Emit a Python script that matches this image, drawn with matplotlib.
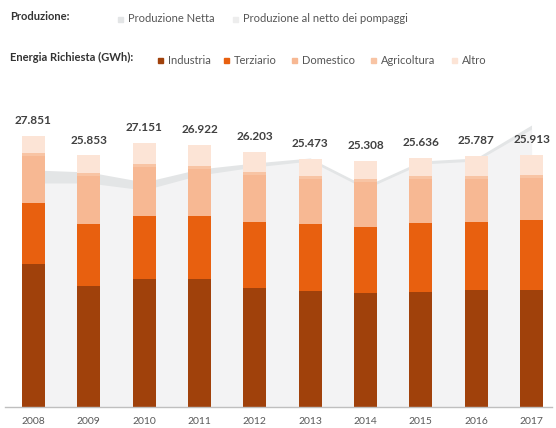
import numpy as np
import matplotlib
matplotlib.use("Agg")
import matplotlib.pyplot as plt
from matplotlib.patches import Rectangle

plt.rcParams['font.family'] = ['Lato', 'DejaVu Sans']

# dati (GWh)
anni = ['2008', '2009', '2010', '2011', '2012', '2013', '2014', '2015', '2016', '2017']
industria = [14700, 12440, 13160, 13160, 12230, 11920, 11720, 11820, 12030, 12030]
terziario = [6270, 6370, 6470, 6470, 6780, 6890, 6780, 7090, 6980, 7190]
domestico = [4780, 4900, 5000, 4790, 4790, 4580, 4580, 4480, 4380, 4270]
agricoltura = [350, 350, 350, 350, 350, 350, 350, 350, 350, 350]
altro = [1751, 1793, 2171, 2152, 2053, 1733, 1878, 1896, 2047, 2073]
totale = [27851, 25853, 27151, 26922, 26203, 25473, 25308, 25636, 25787, 25913]
prod_netta = [24360, 24150, 23120, 24460, 25080, 25590, 22710, 25280, 25590, 28980]
prod_netto_pompaggi = [23020, 23020, 22300, 23840, 24670, 25280, 22400, 24970, 25280, 28570]

col_serie = ['#A0410B', '#E8600F', '#F7B893', '#F8C4A4', '#FCE4D6']
nomi_serie = ['Industria', 'Terziario', 'Domestico', 'Agricoltura', 'Altro']
col_netta = '#E3E5E6'
col_pomp = '#F3F3F4'

W, H = 556, 428
fig = plt.figure(figsize=(W / 100, H / 100), dpi=100)
ax = fig.add_axes([5 / W, 21 / H, 547 / W, 307 / H])

x = np.arange(len(anni))
ax.fill_between(x, 0, prod_netta, color=col_netta, lw=0, zorder=1)
ax.fill_between(x, 0, prod_netto_pompaggi, color=col_pomp, lw=0, zorder=1)

bottom = np.zeros(len(anni))
for vals, c in zip([industria, terziario, domestico, agricoltura, altro], col_serie):
    ax.bar(x, vals, 0.42, bottom=bottom, color=c, zorder=2)
    bottom += np.array(vals)

for xi, t in zip(x, totale):
    lab = f"{t:,}".replace(',', '.')
    ax.annotate(lab, (xi, t), xytext=(0, 11), textcoords='offset points',
                ha='center', va='center', fontsize=8.5, fontweight='bold', color='#404040')

ax.set_xlim(-0.515, 9.37)
ax.set_ylim(0, 31550)
for s in ['top', 'right', 'left']:
    ax.spines[s].set_visible(False)
ax.spines['bottom'].set_color('#BFBFBF')
ax.spines['bottom'].set_linewidth(1)
ax.set_yticks([])
ax.set_xticks(x)
ax.set_xticklabels(anni, fontsize=7.5, color='#595959')
ax.tick_params(axis='x', length=0, pad=7)

# legenda manuale
def px(xp, yp):
    return xp / W, 1 - yp / H

fig.text(*px(10, 17), 'Produzione:', fontsize=8, fontweight='bold', color='#333333', va='center')
fig.text(*px(10, 57), 'Energia Richiesta (GWh):', fontsize=8, fontweight='bold', color='#333333', va='center')

def voce(xm, ym, colore, testo):
    fig.patches.append(Rectangle(px(xm, ym + 3), 5 / W, 5 / H, transform=fig.transFigure,
                                 color=colore, figure=fig))
    fig.text(*px(xm + 10, ym), testo, fontsize=8, color='#555555', va='center')

voce(118, 19, col_netta, 'Produzione Netta')
voce(233, 19, '#EDEDED', 'Produzione al netto dei pompaggi')
for xm, nome, c in zip([158, 224, 292, 371, 452], nomi_serie, col_serie):
    voce(xm, 60, c, nome)

fig.savefig('out.png', dpi=100, facecolor='white')
